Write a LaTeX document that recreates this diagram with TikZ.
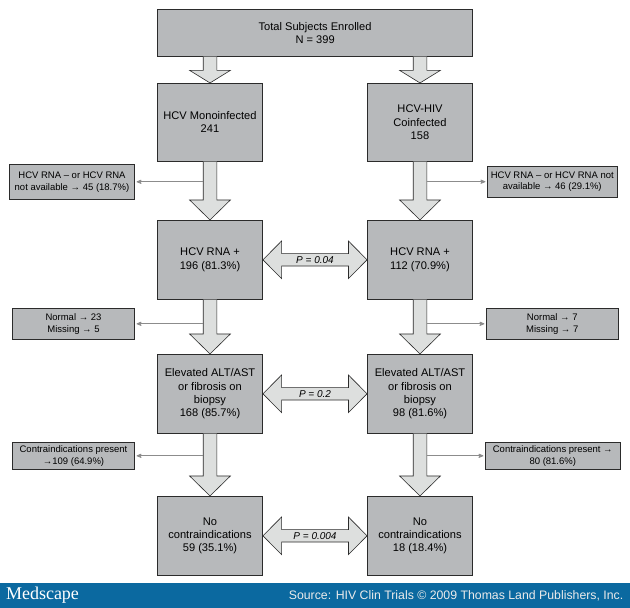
\documentclass[tikz,border=0pt]{standalone}
\usepackage{fontspec}
\setmainfont{Liberation Sans}
\newfontfamily\logofont{Liberation Serif}
\usetikzlibrary{arrows,positioning,calc}
\definecolor{boxgray}{HTML}{B7B9BB}
\definecolor{arrowgray}{HTML}{DDDFDE}
\definecolor{edgegray}{HTML}{2B2B2B}
\definecolor{bannerblue}{HTML}{0B69A0}
% block arrow going down: start, target, head length
\newcommand{\blockdown}[3]{
    \draw[blockarrow] ($(#1)+(-6.8,0)$) -- ($(#2)+(-6.8,-#3)$) -- ($(#2)+(-20.4,-#3)$) -- (#2)
        -- ($(#2)+(20.4,-#3)$) -- ($(#2)+(6.8,-#3)$) -- ($(#1)+(6.8,0)$);
}
% block arrow both ways: left node, right node, label name, label
\newcommand{\blockboth}[4]{
    \draw[blockarrow] (#1) -- ($(#1)+(18.6,-18.8)$) -- ($(#1)+(18.6,-6.2)$) -- ($(#2)+(-18.6,-6.2)$)
        -- ($(#2)+(-18.6,-18.8)$) -- (#2) -- ($(#2)+(-18.6,18.8)$) -- ($(#2)+(-18.6,6.2)$)
        -- ($(#1)+(18.6,6.2)$) -- ($(#1)+(18.6,18.8)$) -- cycle;
    \node[plabel] (#3) at ($(#1)!0.5!(#2)$) {#4};
}
\begin{document}
\begin{tikzpicture}[x=1pt,y=-1pt,>=stealth',
     flowbox/.style={draw=edgegray, fill=boxgray, line width=0.7pt, text=black, inner sep=0pt,
       align=center, font=\fontsize{11.1}{13.2}\selectfont, minimum width=105.2pt, minimum height=79pt},
     sidebox/.style={draw=edgegray, fill=boxgray, line width=0.7pt, text=black, inner sep=0pt,
       align=center, font=\fontsize{9.5}{11.8}\selectfont},
     blockarrow/.style={draw=edgegray, fill=arrowgray, line width=0.6pt, line join=miter},
     sidearrow/.style={->, draw=black!45, line width=0.8pt, shorten >=1.5pt},
     plabel/.style={inner sep=0pt, text=black, font=\fontsize{10}{12}\selectfont\itshape}]
    \useasboundingbox (0,0) rectangle (630,608);
    \fill[white] (0,0) rectangle (630,608);

    \node[flowbox, minimum width=315.2pt, minimum height=47pt] (t0) at (315.1, 32.8) {Total Subjects Enrolled\\N = 399};

    \node[flowbox, minimum height=78pt] (m1) at (210, 122.3) {HCV Monoinfected\\241};
    \node[flowbox] (m2) at (210, 259.8) {HCV RNA +\\196 (81.3\%)};
    \node[flowbox] (m3) at (210, 393.8) {Elevated ALT/AST\\or fibrosis on\\biopsy\\168 (85.7\%)};
    \node[flowbox] (m4) at (210, 535.8) {No\\contraindications\\59 (35.1\%)};

    \node[flowbox, minimum height=78pt] (c1) at (420, 122.3) {HCV-HIV\\Coinfected\\158};
    \node[flowbox] (c2) at (420, 259.8) {HCV RNA +\\112 (70.9\%)};
    \node[flowbox] (c3) at (420, 393.8) {Elevated ALT/AST\\or fibrosis on\\biopsy\\98 (81.6\%)};
    \node[flowbox] (c4) at (420, 535.8) {No\\contraindications\\18 (18.4\%)};

    \node[sidebox, minimum width=125.4pt, minimum height=35pt] (l1) at (72, 181.8) {HCV RNA -- or HCV RNA\\not available → 45 (18.7\%)};
    \node[sidebox, minimum width=122.4pt, minimum height=31pt] (l2) at (73.5, 323.8) {Normal → 23\\Missing → 5};
    \node[sidebox, minimum width=122.4pt, minimum height=27pt] (l3) at (73.5, 455.8) {Contraindications present\\→109 (64.9\%)};
    \node[sidebox, minimum width=130pt, minimum height=31.3pt] (r1) at (552.3, 181.7) {HCV RNA -- or HCV RNA not\\available → 46 (29.1\%)};
    \node[sidebox, minimum width=132pt, minimum height=31pt] (r2) at (552.3, 323.8) {Normal → 7\\Missing → 7};
    \node[sidebox, minimum width=135pt, minimum height=27pt] (r3) at (552.8, 455.8) {Contraindications present →\\80 (81.6\%)};

    \coordinate (t0l) at (t0.south -| m1.north);
    \coordinate (t0r) at (t0.south -| c1.north);
    \blockdown{t0l}{m1.north}{12.6}
    \blockdown{t0r}{c1.north}{12.6}
    \blockdown{m1.south}{m2.north}{20}
    \blockdown{c1.south}{c2.north}{20}
    \blockdown{m2.south}{m3.north}{20}
    \blockdown{c2.south}{c3.north}{20}
    \blockdown{m3.south}{m4.north}{20}
    \blockdown{c3.south}{c4.north}{20}

    \blockboth{m2.east}{c2.west}{p2}{P = 0.04}
    \blockboth{m3.east}{c3.west}{p3}{P = 0.2}
    \blockboth{m4.east}{c4.west}{p4}{P = 0.004}

    \coordinate (a1) at (203.2, 181.8);
    \coordinate (a2) at (203.2, 323.8);
    \coordinate (a3) at (203.2, 455.8);
    \coordinate (b1) at (426.8, 181.7);
    \coordinate (b2) at (426.8, 323.8);
    \coordinate (b3) at (426.8, 455.8);
    \draw[sidearrow] (a1) -- (l1.east);
    \draw[sidearrow] (a2) -- (l2.east);
    \draw[sidearrow] (a3) -- (l3.east);
    \draw[sidearrow] (b1) -- (r1.west);
    \draw[sidearrow] (b2) -- (r2.west);
    \draw[sidearrow] (b3) -- (r3.west);

    % footer
    \node[fill=bannerblue, minimum width=630pt, minimum height=24.7pt, inner sep=0pt] (banner) at (315, 595.65) {};
    \node[text=white, inner sep=0pt, font=\logofont\fontsize{18}{18}\selectfont] (logo) at (42.5, 595.3) {Medscape};
    \node[text=black!8, inner sep=0pt, anchor=east, font=\fontsize{12.3}{14}\selectfont] (src) at (623.5, 596) {Source: HIV Clin Trials © 2009 Thomas Land Publishers, Inc.};
\end{tikzpicture}
\end{document}
